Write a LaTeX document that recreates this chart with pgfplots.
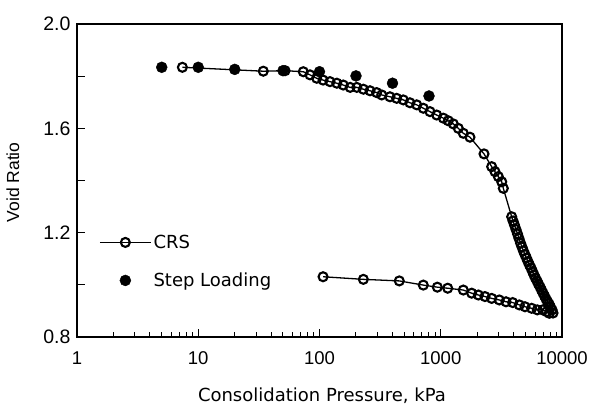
\documentclass[border=0pt]{standalone}
\usepackage{fontspec}
\setmainfont{Liberation Sans}
\newfontfamily\dejavu{DejaVu Sans}
\usepackage{pgfplots}
\pgfplotsset{compat=1.18}
\begin{document}
\begin{tikzpicture}
\useasboundingbox (-77pt,-69pt) rectangle (518pt,337pt);
\begin{axis}[
  at={(0pt,0pt)}, anchor=south west,
  scale only axis, width=485pt, height=313pt,
  xmode=log, xmin=1, xmax=10000, ymin=0.8, ymax=2.0,
  axis line style={line width=1.3pt},
  every tick/.style={black, line width=1pt},
  tick align=inside, tick pos=left,
  major tick length=8pt, minor tick length=4.5pt,
  xtick={1,10,100,1000,10000}, xticklabels={1,10,100,1000,10000},
  ytick={0.8,1.2,1.6,2.0}, yticklabels={0.8,1.2,1.6,2.0},
  extra y ticks={1.0,1.4,1.8}, extra y tick labels={},
  /pgf/number format/assume math mode=true,
  xticklabel style={font=\fontsize{18.5}{20}\selectfont, yshift=-11pt},
  yticklabel style={font=\fontsize{19.5}{20}\selectfont, xshift=-3pt},
  xlabel={\dejavu Consolidation Pressure, kPa},
  ylabel={Void Ratio},
  xlabel style={font=\fontsize{18}{20}\selectfont, at={(axis description cs:0.505,-0.188)}, anchor=center},
  ylabel style={font=\fontsize{17.5}{20}\selectfont, at={(axis description cs:-0.132,0.494)}, anchor=center},
  legend style={draw=none, fill=none, at={(axis description cs:0.0454,0.2412)}, anchor=west,
    inner sep=0pt, row sep=19pt, font=\dejavu\fontsize{18}{20}\selectfont,
    /tikz/every even column/.append style={column sep=2pt}},
  legend cell align=left,
  legend image code/.code={\draw[mark repeat=2,mark phase=2] plot coordinates {(0pt,0pt) (25.5pt,0pt) (51pt,0pt)};},
]
\addplot[black, line width=1.3pt, mark=o, mark size=4.5pt, mark options={line width=2.1pt, fill=white}] coordinates {
(7.4,1.834) (34.4,1.819) (52,1.821) (73.5,1.817) (83.5,1.805) (94.8,1.792) (107,1.785)
(122,1.779) (139,1.773) (157,1.766) (179,1.757) (203,1.757) (230,1.750) (261,1.744)
(296,1.737) (326,1.728) (381,1.721) (433,1.715) (491,1.709) (557,1.698) (634,1.690)
(718,1.677) (815,1.664) (926,1.651) (1050,1.639) (1154,1.629) (1270,1.617) (1396,1.600)
(1535,1.581) (1742,1.566) (2274,1.502) (2630,1.453) (2800,1.434) (2985,1.415) (3184,1.395)
(3281,1.370) (3846,1.261) (3945,1.245) (4058,1.229) (4178,1.212) (4297,1.195) (4418,1.178)
(4550,1.160) (4677,1.145) (4808,1.130) (4949,1.116) (5093,1.103) (5244,1.089) (5395,1.076)
(5546,1.065) (5715,1.051) (5875,1.038) (6043,1.026) (6223,1.015) (6397,1.003) (6590,0.992)
(6776,0.980) (6966,0.969) (7178,0.957) (7379,0.946) (7586,0.936) (7816,0.927) (8035,0.915)
(8279,0.904) (8433,0.892)
(7860,0.891) (7475,0.897) (6928,0.904) (6256,0.904) (5623,0.910) (4951,0.916) (4447,0.923)
(3919,0.932) (3453,0.935) (3040,0.942) (2630,0.948) (2316,0.955) (2042,0.961) (1799,0.968)
(1535,0.980) (1141,0.987) (937,0.991) (718,0.999) (455,1.015) (230,1.021) (107,1.031)
};
\addlegendentry{CRS}
\addplot[only marks, mark=*, mark size=5.5pt, mark options={draw=black, fill=black, line width=0.4pt}] coordinates {
(5,1.834) (10,1.834) (20,1.826) (50,1.821) (100,1.817) (200,1.801) (400,1.773) (800,1.724)
};
\addlegendentry{Step Loading}
\end{axis}
\end{tikzpicture}
\end{document}
